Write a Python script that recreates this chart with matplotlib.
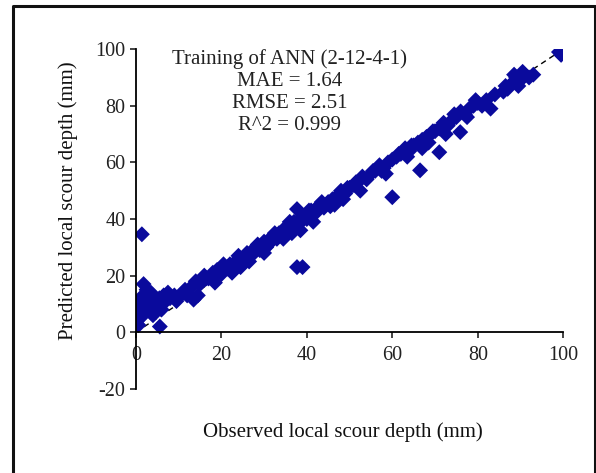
import matplotlib.pyplot as plt
from matplotlib.lines import Line2D

# observed vs predicted local scour depth (mm)
observed = [0.2, 0.5, 0.8, 1.0, 1.2, 0.3, 1.5, 2.0, 2.2, 2.5, 3.0, 3.5, 4.0, 4.5, 5.0,
            5.5, 6.0, 6.5, 7.0, 1.4, 1.8, 2.5, 3.5, 5.6, 3.0, 4.0, 6.0, 0.4, 1.0, 0.1,
            0.6, 8.0, 9.0, 10.0, 11.0, 12.0, 13.0, 14.0, 15.0, 16.0, 17.0, 13.5, 18.0, 19.0,
            20.0, 21.0, 22.0, 23.0, 24.0, 25.0, 26.0, 27.0, 28.0, 29.0, 30.0, 31.0, 32.0,
            33.0, 34.0, 35.0, 36.0, 37.0, 38.0, 39.0, 40.0, 41.0, 42.0, 43.0, 44.0, 45.0,
            46.0, 47.0, 48.0, 49.0, 50.0, 51.0, 52.0, 53.0, 54.0, 55.0, 56.0, 57.0, 58.0,
            59.0, 60.0, 61.0, 62.0, 63.0, 64.0, 65.0, 66.0, 67.0, 68.0, 69.0, 70.0, 71.0,
            72.0, 73.0, 74.0, 75.0, 76.0, 77.0, 78.0, 79.0, 80.0, 81.0, 83.0, 82.0, 86.0,
            87.0, 88.0, 89.0, 90.0, 91.0, 89.5, 92.0, 93.0, 99.0, 100.0, 99.5,
            37.7, 39.0, 37.7, 60.0, 66.5, 71.0, 75.9, 21.5, 24.5, 27.5, 30.5, 33.5,
            36.5, 42.5, 45.5, 48.5, 51.5, 57.5, 63.5, 68.5,
            2.0, 4.0, 7.5, 9.5, 11.5, 14.5, 16.5, 18.5, 20.5, 22.5, 24.0, 26.5, 28.5,
            30.0, 32.5, 34.5, 36.0, 38.5, 40.5, 41.5, 43.5, 46.5, 49.5, 52.5, 55.5, 58.5,
            61.5, 64.5, 67.0, 69.5, 72.5, 74.5, 77.5, 79.5, 84.0, 86.5, 88.5, 90.5]
predicted = [4.0, 6.0, 8.0, 5.0, 9.0, 7.0, 6.0, 7.0, 10.0, 8.0, 9.0, 7.0, 10.0, 11.0, 9.0,
             12.0, 10.0, 13.0, 11.0, 34.6, 17.0, 15.0, 14.0, 2.0, 12.0, 13.0, 8.0, 10.0, 12.0, 3.0,
             2.5, 12.0, 13.0, 12.5, 14.0, 13.0, 16.0, 18.0, 17.0, 20.0, 19.0, 11.5, 21.0, 22.0,
             20.5, 23.0, 24.0, 23.0, 26.0, 25.0, 28.0, 27.0, 30.0, 29.0, 32.0, 31.0, 34.0,
             33.0, 35.0, 37.0, 36.0, 39.0, 38.0, 41.0, 40.0, 43.0, 42.0, 45.0, 44.0, 46.0,
             47.0, 48.0, 50.0, 49.0, 51.0, 52.0, 53.0, 55.0, 54.0, 56.0, 57.0, 59.0, 58.0,
             60.0, 61.0, 62.0, 63.0, 65.0, 64.0, 66.0, 67.0, 68.0, 69.0, 70.0, 71.0, 72.0,
             74.0, 73.0, 75.0, 76.0, 78.0, 77.0, 79.0, 80.0, 81.0, 80.0, 79.0, 82.0, 85.0,
             86.0, 88.0, 90.0, 89.0, 91.0, 87.0, 90.0, 91.0, 99.0, 100.0, 98.0,
             23.0, 23.0, 43.5, 47.7, 57.2, 63.6, 70.7, 22.5, 23.0, 29.0, 30.0, 35.0,
             35.0, 43.5, 44.5, 47.0, 53.0, 57.0, 62.0, 67.0,
             11.0, 6.0, 14.0, 11.0, 15.0, 13.0, 19.0, 17.5, 24.0, 21.0, 27.0, 25.0, 31.0,
             28.0, 35.0, 33.0, 39.0, 36.0, 43.0, 39.0, 46.0, 45.0, 51.0, 50.0, 57.0, 56.0,
             63.0, 66.0, 65.0, 71.0, 70.0, 77.0, 76.0, 82.0, 84.0, 87.0, 91.0, 92.0]

line_x = [0, 100]
x_ticks = [0, 20, 40, 60, 80, 100]
y_ticks = [-20, 0, 20, 40, 60, 80, 100]

plt.rcParams['font.family'] = ['Liberation Serif', 'DejaVu Serif']
plt.rcParams['axes.unicode_minus'] = False

fig = plt.figure(figsize=(5.96, 4.73), dpi=100)
ax = fig.add_axes([0.228, 0.178, 0.717, 0.718])

ax.plot(line_x, line_x, color='black', linestyle=(0, (4, 3)), linewidth=1, zorder=1)
ax.scatter(observed, predicted, marker='D', s=66, color='#0a0a9c', edgecolors='none', zorder=2)

ax.set_xlim(0, 100)
ax.set_ylim(-20, 100)
ax.set_xticks(x_ticks)
ax.set_yticks(y_ticks)
ax.spines['top'].set_visible(False)
ax.spines['right'].set_visible(False)
ax.spines['bottom'].set_position(('data', 0))
ax.spines['left'].set_linewidth(1.3)
ax.spines['bottom'].set_linewidth(1.3)
ax.tick_params(direction='out', length=4, width=1.2, labelsize=14.5, colors='#222222')
ax.tick_params(axis='x', pad=6)

ax.text(0.36, 1.0, 'Training of ANN (2-12-4-1)\nMAE = 1.64\nRMSE = 2.51\nR^2 = 0.999',
        transform=ax.transAxes, ha='center', va='top', fontsize=15,
        linespacing=1.22, color='#222222')

fig.text(0.575, 0.087, 'Observed local scour depth (mm)', ha='center', va='center',
         fontsize=15, color='#111111')
fig.text(0.115, 0.575, 'Predicted local scour depth (mm)', ha='center', va='center',
         rotation=90, fontsize=15, color='#111111')

# outer frame (bottom edge falls off the canvas)
fig.add_artist(Line2D([0.022, 0.022, 0.998, 0.998], [0.0, 0.987, 0.987, 0.0],
                      transform=fig.transFigure, color='#111111', linewidth=2.2))

fig.savefig('out.png', dpi=100)
